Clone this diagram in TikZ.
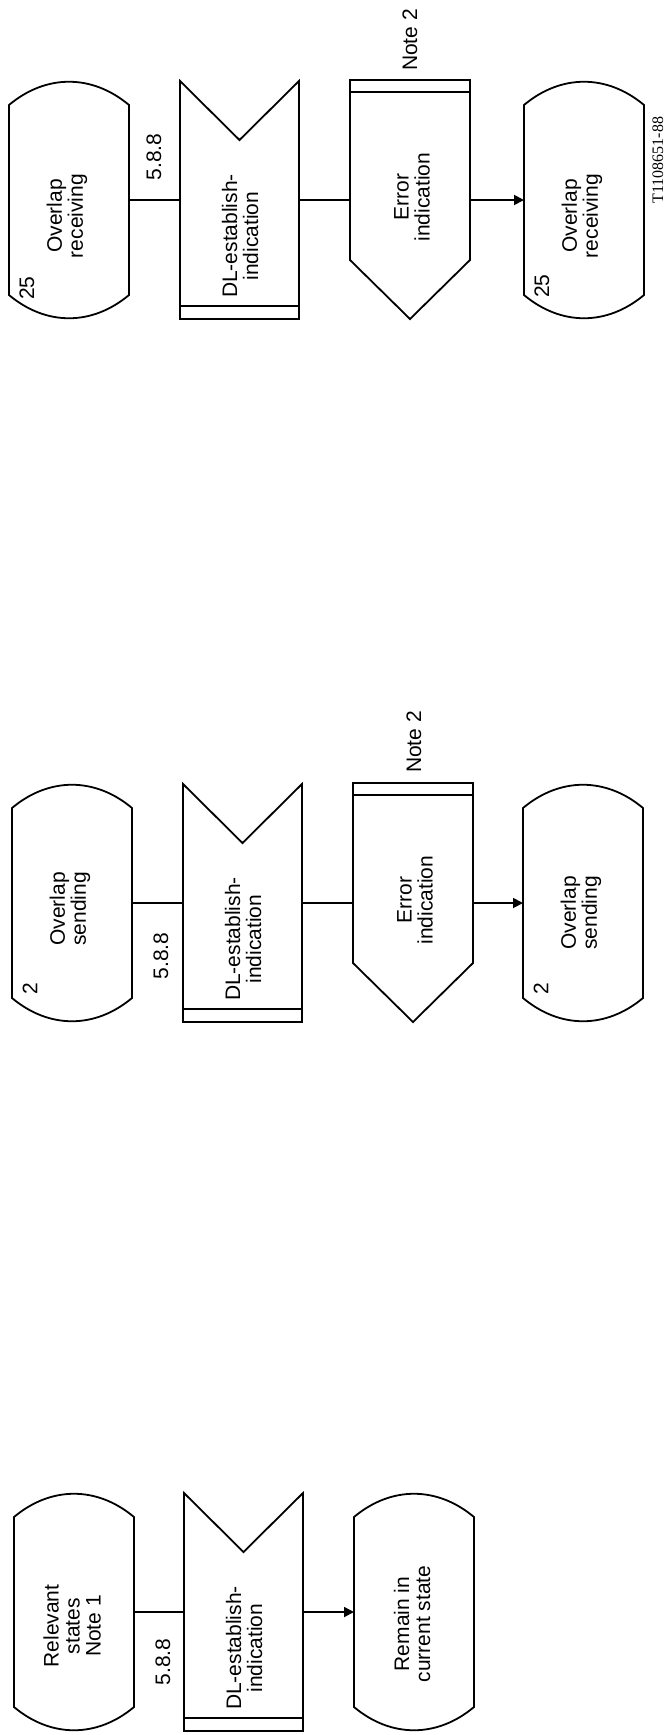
\documentclass[tikz,border=0pt]{standalone}
\usepackage{fontspec}
\setmainfont{Liberation Sans}
\newfontfamily\figfont{Liberation Serif}
\usetikzlibrary{arrows.meta}

\tikzset{
  sdl/.style={line width=0.9pt, line join=miter},
  flow/.style={line width=0.9pt},
  flowarrow/.style={line width=0.9pt, -{Triangle[length=5pt,width=5pt]}},
  symtext/.style={rotate=90, align=center, inner sep=0pt, font=\fontsize{10.5}{10.5}\selectfont},
  reftext/.style={rotate=90, inner sep=0pt, font=\fontsize{10.5}{10.5}\selectfont},
}

% state symbol: name, left x, line y, text shift, text
\newcommand{\sdlstate}[5]{%
  \draw[sdl] (#2,#3-95) .. controls (#2+37,#3-126) and (#2+83,#3-126) .. (#2+120,#3-95)
    -- (#2+120,#3+95) .. controls (#2+83,#3+126) and (#2+37,#3+126) .. (#2,#3+95) -- cycle;
  \node[symtext] (#1) at (#2+58,#3+#4) {#5};
  \coordinate (#1-w) at (#2,#3);
  \coordinate (#1-e) at (#2+120,#3);
}
% input symbol: name, left x, line y, text
\newcommand{\sdlinput}[4]{%
  \draw[sdl] (#2,#3-119) -- (#2+59.5,#3-60) -- (#2+119,#3-119) -- (#2+119,#3+119)
    -- (#2,#3+119) -- cycle;
  \draw[sdl] (#2,#3+106) -- (#2+119,#3+106);
  \node[symtext] (#1) at (#2+60,#3+36) {#4};
  \coordinate (#1-w) at (#2,#3);
  \coordinate (#1-e) at (#2+119,#3);
}
% output symbol: name, left x, line y, text
\newcommand{\sdloutput}[4]{%
  \draw[sdl] (#2,#3-120) -- (#2+120,#3-120) -- (#2+120,#3+60) -- (#2+60,#3+119)
    -- (#2,#3+60) -- cycle;
  \draw[sdl] (#2,#3-108) -- (#2+120,#3-108);
  \node[symtext] (#1) at (#2+62,#3-3) {#4};
  \coordinate (#1-w) at (#2,#3);
  \coordinate (#1-e) at (#2+120,#3);
}

\begin{document}
\begin{tikzpicture}[x=0.5pt,y=-0.5pt]
\useasboundingbox (0,0) rectangle (672,1735);

% overlap receiving
\sdlstate{rcvA}{9}{200}{16}{Overlap\\receiving}
\node[reftext] (rcvAnr) at (27,288) {25};
\sdlinput{estA}{180}{200}{DL-establish-\\indication}
\sdloutput{errA}{350}{200}{Error\\indication}
\sdlstate{rcvB}{524}{200}{16}{Overlap\\receiving}
\node[reftext] (rcvBnr) at (542,286) {25};
\node[reftext] (refA) at (154,157) {5.8.8};
\node[reftext] (noteA) at (410,40) {Note 2};
\draw[flow] (rcvA-e) -- (estA-w);
\draw[flow] (estA-e) -- (errA-w);
\draw[flowarrow] (errA-e) -- (rcvB-w);

% overlap sending
\sdlstate{sndA}{12}{903}{6}{Overlap\\sending}
\node[reftext] (sndAnr) at (30,989) {2};
\sdlinput{estB}{183}{903}{DL-establish-\\indication}
\sdloutput{errB}{353}{903}{Error\\indication}
\sdlstate{sndB}{523}{903}{10}{Overlap\\sending}
\node[reftext] (sndBnr) at (541,989) {2};
\node[reftext] (refB) at (161,956) {5.8.8};
\node[reftext] (noteB) at (414,742) {Note 2};
\draw[flow] (sndA-e) -- (estB-w);
\draw[flow] (estB-e) -- (errB-w);
\draw[flowarrow] (errB-e) -- (sndB-w);

% relevant states
\sdlstate{relA}{14}{1612}{14}{Relevant\\states\\Note 1}
\sdlinput{estC}{184}{1612}{DL-establish-\\indication}
\sdlstate{remA}{354}{1612}{12}{Remain in\\current state}
\node[reftext] (refC) at (163,1662) {5.8.8};
\draw[flow] (relA-e) -- (estC-w);
\draw[flowarrow] (estC-e) -- (remA-w);

\node[reftext, font=\figfont\fontsize{8}{8}\selectfont] (figno) at (658,160) {T1108651-88};
\end{tikzpicture}
\end{document}
